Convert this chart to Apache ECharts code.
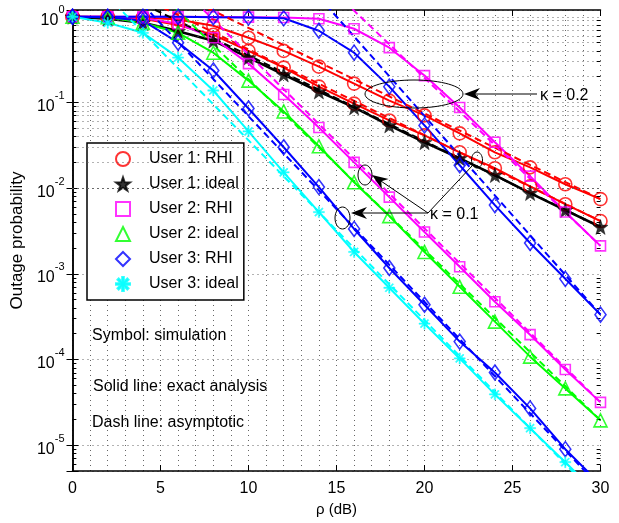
<!DOCTYPE html>
<html>
<head>
<meta charset="utf-8">
<script src="https://cdn.jsdelivr.net/npm/echarts@6/dist/echarts.min.js"></script>
<style>
  html, body { margin: 0; padding: 0; background: #fff; }
  #chart { width: 619px; height: 523px; }
</style>
</head>
<body>
<div id="chart"></div>
<script>
// SNR points (dB)
const rho = [0, 2, 4, 6, 8, 10, 12, 14, 16, 18, 20, 22, 24, 26, 28, 30];

// simulation / exact analysis
const user1RhiK02 = [1, 1, 0.98, 0.93, 0.786, 0.57, 0.40, 0.262, 0.166, 0.105, 0.0706, 0.0436, 0.0262, 0.0175, 0.0111, 0.00745];
const user1RhiK01 = [1, 0.99, 0.95, 0.8, 0.617, 0.40, 0.255, 0.153, 0.097, 0.0617, 0.0413, 0.0262, 0.0171, 0.0105, 0.0065, 0.00413];
const user1Ideal = [1, 0.95, 0.85, 0.68, 0.526, 0.334, 0.212, 0.134, 0.0875, 0.054, 0.0343, 0.0223, 0.0142, 0.00875, 0.00555, 0.00352];
const user2RhiK02 = [1, 1, 1, 1, 0.995, 0.99, 0.98, 0.95, 0.725, 0.436, 0.206, 0.0875, 0.0343, 0.0138, 0.00526, 0.00212];
const user2RhiK01 = [1, 1, 0.97, 0.83, 0.57, 0.284, 0.124, 0.051, 0.02, 0.00786, 0.00308, 0.00121, 4.72e-4, 1.95e-4, 7.65e-5, 3.16e-5];
const user2Ideal = [1, 0.99, 0.85, 0.65, 0.381, 0.18, 0.0786, 0.0308, 0.0117, 0.00472, 0.0018, 7.06e-4, 2.77e-4, 1.08e-4, 4.6e-5, 1.95e-5];
const user3RhiK02 = [1, 1, 1, 1, 0.99, 0.98, 0.96, 0.687, 0.381, 0.153, 0.054, 0.0185, 0.00634, 0.00229, 8.75e-4, 3.34e-4];
const user3RhiK01 = [1, 0.99, 0.9, 0.499, 0.236, 0.0851, 0.03, 0.0103, 0.00334, 0.00117, 4.36e-4, 1.62e-4, 7.06e-5, 2.69e-5, 8.98e-6, 3.5e-6];
const user3Ideal = [1, 0.85, 0.65, 0.334, 0.138, 0.046, 0.0153, 0.00526, 0.0018, 6.88e-4, 2.62e-4, 1.03e-4, 3.92e-5, 1.58e-5, 6.34e-6, 2.5e-6];

// asymptotic lines [rho, P]
const user1RhiK02Asym = [[6, 1.86], [30, 0.00745]];
const user1RhiK01Asym = [[4, 1.66], [30, 0.00413]];
const user1IdealAsym = [[3, 1.78], [30, 0.00352]];
const user2RhiK02Asym = [[15, 1.85], [30, 0.00212]];
const user2RhiK01Asym = [[7, 1.48], [30, 3.16e-5]];
const user2IdealAsym = [[5, 1.85], [30, 1.95e-5]];
const user3RhiK02Asym = [[14, 1.71], [30, 3.34e-4]];
const user3RhiK01Asym = [[4, 1.38], [30, 3.2e-6]];
const user3IdealAsym = [[2, 1.73], [30, 2.29e-6]];

const yMin = 5e-6, yMax = 1.2;

const FONT = '"Liberation Sans", Arial, sans-serif';
const RED = '#ff0000', BLACK = '#000000', MAGENTA = '#ff00ff', GREEN = '#00ff00', BLUE = '#0000ff', CYAN = '#00ffff';

const STAR = 'path://M0,-10 L2.35,-3.24 9.51,-3.09 3.8,1.24 5.88,8.09 0,4 -5.88,8.09 -3.8,1.24 -9.51,-3.09 -2.35,-3.24 Z';
const ASTERISK = 'path://M-10,-1.2 L10,-1.2 L10,1.2 L-10,1.2 Z M-1.2,-10 L1.2,-10 L1.2,10 L-1.2,10 Z ' +
  'M-7.92,-6.22 L-6.22,-7.92 L7.92,6.22 L6.22,7.92 Z M-6.22,7.92 L-7.92,6.22 L6.22,-7.92 L7.92,-6.22 Z';

function pairs(ys) {
  return rho.map((x, i) => [x, ys[i]]);
}
function solid(color, ys, width) {
  return {
    type: 'line', data: pairs(ys), symbol: 'none', silent: true, z: 3,
    lineStyle: { color: color, width: width || 2 }
  };
}
function dashed(color, pts) {
  return {
    type: 'line', data: pts, symbol: 'none', silent: true, z: 3,
    lineStyle: { color: color, width: 2, type: [7, 4] }
  };
}
function marks(name, symbol, size, color, ys, filled) {
  return {
    name: name, type: 'scatter', data: pairs(ys), symbol: symbol, symbolSize: size, z: 5,
    itemStyle: filled ? { color: color, borderColor: color, borderWidth: 0.5 }
                      : { color: 'rgba(255,255,255,0)', borderColor: color, borderWidth: 1.6 }
  };
}

// minor grid values for the log axis
const minorVals = [];
for (let e = -6; e <= 0; e++) {
  for (let m = 2; m <= 9; m++) {
    const v = m * Math.pow(10, e);
    if (v > yMin && v < yMax) minorVals.push(v);
  }
}
const gridDot = { color: '#666', width: 1, type: [1, 4] };
const minorMarks = minorVals.map(v => ({ yAxis: v }));
const tickMarks = [];
minorVals.forEach(v => {
  tickMarks.push([{ coord: [0, v] }, { coord: [0.22, v] }]);
  tickMarks.push([{ coord: [29.78, v] }, { coord: [30, v] }]);
});

const chart = echarts.init(document.getElementById('chart'));

const series = [
  solid(RED, user1RhiK02), solid(RED, user1RhiK01), solid(BLACK, user1Ideal, 2.6),
  solid(MAGENTA, user2RhiK02), solid(MAGENTA, user2RhiK01), solid(GREEN, user2Ideal),
  solid(BLUE, user3RhiK02), solid(BLUE, user3RhiK01), solid(CYAN, user3Ideal),
  dashed(RED, user1RhiK02Asym), dashed(RED, user1RhiK01Asym), dashed(BLACK, user1IdealAsym),
  dashed(MAGENTA, user2RhiK02Asym), dashed(MAGENTA, user2RhiK01Asym), dashed(GREEN, user2IdealAsym),
  dashed(BLUE, user3RhiK02Asym), dashed(BLUE, user3RhiK01Asym), dashed(CYAN, user3IdealAsym),
  marks('User 1: RHI', 'circle', 13, RED, user1RhiK02),
  marks('User 1: RHI', 'circle', 13, RED, user1RhiK01),
  marks('User 1: ideal', STAR, 15, BLACK, user1Ideal, true),
  marks('User 2: RHI', 'rect', 10, MAGENTA, user2RhiK02),
  marks('User 2: RHI', 'rect', 10, MAGENTA, user2RhiK01),
  marks('User 2: ideal', 'triangle', 13, GREEN, user2Ideal),
  marks('User 3: RHI', 'diamond', [11, 15], BLUE, user3RhiK02),
  marks('User 3: RHI', 'diamond', [11, 15], BLUE, user3RhiK01),
  marks('User 3: ideal', ASTERISK, 11, CYAN, user3Ideal, true)
];

// grid helpers attached to empty line series
series.push({
  type: 'line', data: [], silent: true, z: 1,
  markLine: {
    silent: true, symbol: 'none', animation: false,
    label: { show: false },
    lineStyle: gridDot,
    data: minorMarks
  }
});
series.push({
  type: 'line', data: [], silent: true, z: 6,
  markLine: {
    silent: true, symbol: 'none', animation: false,
    label: { show: false },
    lineStyle: { color: '#000', width: 1, type: 'solid' },
    data: tickMarks
  }
});

function yLabel(v) {
  const e = Math.log10(v);
  const r = Math.round(e);
  if (Math.abs(e - r) > 1e-6) return '';
  return '{b|10}{s|' + r + '}';
}

const axisBlack = { show: true, lineStyle: { color: '#000', width: 1.5 } };

const option = {
  animation: false,
  backgroundColor: '#fff',
  textStyle: { fontFamily: FONT },
  grid: { left: 72.5, right: 18.5, top: 10, bottom: 52, containLabel: false },
  legend: {
    orient: 'vertical', left: 87, top: 143,
    selectedMode: false,
    data: ['User 1: RHI', 'User 1: ideal', 'User 2: RHI', 'User 2: ideal', 'User 3: RHI', 'User 3: ideal'],
    backgroundColor: '#fff', borderColor: '#000', borderWidth: 1.5,
    padding: [8, 5, 8, 28],
    itemWidth: 14, itemHeight: 14, itemGap: 9,
    textStyle: { fontFamily: FONT, fontSize: 16, color: '#000', padding: [0, 0, 0, 14] }
  },
  xAxis: [{
    type: 'value', min: 0, max: 30, interval: 5,
    name: 'ρ (dB)', nameLocation: 'middle', nameGap: 30,
    nameTextStyle: { fontFamily: FONT, fontSize: 15, color: '#000' },
    axisLine: axisBlack,
    axisTick: { show: true, inside: true, length: 6, lineStyle: { color: '#000' } },
    axisLabel: { fontFamily: FONT, fontSize: 16, color: '#000', margin: 10 },
    splitLine: { show: true, lineStyle: gridDot },
    minorTick: { show: false, splitNumber: 5 },
    minorSplitLine: { show: true, lineStyle: gridDot }
  }, {
    type: 'value', min: 0, max: 30, interval: 5, position: 'top',
    axisLine: axisBlack,
    axisTick: { show: true, inside: true, length: 6, lineStyle: { color: '#000' } },
    axisLabel: { show: false },
    splitLine: { show: false }
  }],
  yAxis: [{
    type: 'log', logBase: 10, min: yMin, max: yMax,
    name: 'Outage probability', nameLocation: 'middle', nameGap: 40, nameRotate: 90,
    nameTextStyle: { fontFamily: FONT, fontSize: 17, color: '#000' },
    axisLine: axisBlack,
    axisTick: { show: true, inside: true, length: 6, lineStyle: { color: '#000' } },
    axisLabel: {
      formatter: yLabel, margin: 8,
      rich: {
        b: { fontFamily: FONT, fontSize: 16, color: '#000', lineHeight: 24, verticalAlign: 'bottom' },
        s: { fontFamily: FONT, fontSize: 11, color: '#000', lineHeight: 12, verticalAlign: 'top' }
      }
    },
    splitLine: { show: true, lineStyle: gridDot }
  }, {
    type: 'log', logBase: 10, min: yMin, max: yMax, position: 'right',
    axisLine: axisBlack,
    axisTick: { show: true, inside: true, length: 6, lineStyle: { color: '#000' } },
    axisLabel: { show: false },
    splitLine: { show: false }
  }],
  series: series
};

chart.setOption(option);

// annotations (ellipses, arrows, notes)
function arrowHead(tip, from, len, half) {
  const dx = tip[0] - from[0], dy = tip[1] - from[1];
  const d = Math.sqrt(dx * dx + dy * dy);
  const ux = dx / d, uy = dy / d, nx = -uy, ny = ux;
  const bx = tip[0] - ux * len, by = tip[1] - uy * len;
  const mx = tip[0] - ux * len * 0.7, my = tip[1] - uy * len * 0.7;
  return {
    type: 'polygon', z: 20,
    shape: { points: [tip, [bx + nx * half, by + ny * half], [mx, my], [bx - nx * half, by - ny * half]] },
    style: { fill: '#000' }
  };
}
function seg(a, b) {
  return { type: 'line', z: 20, shape: { x1: a[0], y1: a[1], x2: b[0], y2: b[1] }, style: { stroke: '#000', lineWidth: 1 } };
}
function ell(cx, cy, rx, ry) {
  return { type: 'ellipse', z: 20, shape: { cx: cx, cy: cy, rx: rx, ry: ry }, style: { fill: null, stroke: '#000', lineWidth: 1 } };
}
function note(x, y, t, size) {
  return { type: 'text', z: 20, x: x, y: y, style: { text: t, font: (size || 16) + 'px ' + FONT, fill: '#000', textVerticalAlign: 'middle' } };
}

const k01 = [428, 213];
chart.setOption({
  graphic: [
    ell(414, 94, 49, 14),
    seg([537, 94], [470, 94]),
    arrowHead([464, 94], [537, 94], 16, 6),
    note(540, 96, 'κ = 0.2'),
    ell(342.5, 218, 7.5, 11),
    seg(k01, [360, 213]),
    arrowHead([351, 213], k01, 16, 6),
    ell(365, 175, 7, 10),
    seg(k01, [378, 179]),
    arrowHead([372, 175], k01, 16, 6),
    ell(477, 160, 5.5, 8),
    seg(k01, [472, 166]),
    note(430, 215, 'κ = 0.1'),
    note(92, 336, 'Symbol: simulation'),
    note(93, 387, 'Solid line: exact analysis'),
    note(92, 423, 'Dash line: asymptotic')
  ]
});
</script>
</body>
</html>
